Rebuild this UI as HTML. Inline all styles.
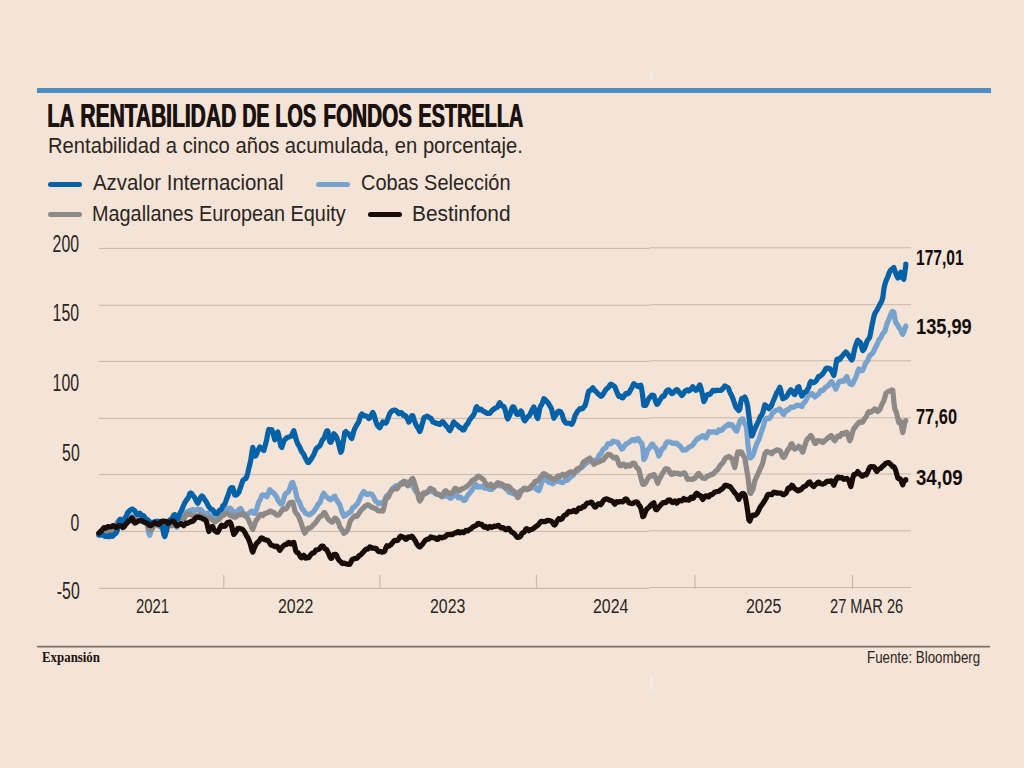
<!DOCTYPE html>
<html><head><meta charset="utf-8"><style>
*{margin:0;padding:0}
html,body{width:1024px;height:768px;overflow:hidden;background:#F4E4D8}
body{position:relative;font-family:"Liberation Sans",sans-serif;color:#2a231f}
.a{position:absolute;white-space:nowrap;line-height:1}
.c{display:inline-block;transform-origin:0 0}
.r{text-align:right}
.r .c{transform-origin:100% 0}
#rt{position:absolute;left:37px;top:88px;width:954px;height:5px;background:#4F8DC3}
.tt{top:99.1px;font-weight:bold;font-size:33px;color:#1b120e}
.tt .c{text-shadow:1.2px 0 0 #1b120e}
#sub{left:48px;top:135px;font-size:21.6px;color:#2c2420}
#sub .c{transform:scaleX(0.935)}
.lg{font-size:21.6px;color:#2c2420}
.lg .c{transform:scaleX(0.945)}
.sw{position:absolute;height:5px;border-radius:2.5px}
.ya{font-size:24px;color:#2c2420;right:944.6px}
.ya .c{transform:scaleX(0.66)}
.xa{font-size:19.5px;color:#2c2420}
.xa .c{transform:scaleX(0.815)}
.xa .c.m{transform:scaleX(0.75)}
.vl{font-size:21.3px;font-weight:bold;color:#140c08}
.vl .c{transform:scaleX(0.75)}
#rb{position:absolute;left:37px;top:646px;width:953px;height:1px;background:#7f7269;box-shadow:0 1px 0 #b4a79d,0 -1px 0 #d8cabe}
#exp{left:41.5px;top:650px;font-family:"Liberation Serif",serif;font-weight:bold;font-size:14.5px;color:#1b120e}
#exp .c{transform:scaleX(0.888)}
#src{left:867px;top:649.3px;font-size:16.3px;color:#2c2420}
#src .c{transform:scaleX(0.817)}
svg{position:absolute;left:0;top:0}
</style></head><body>
<div id="rt"></div>
<div class="a tt" style="left:47.18px"><span class="c" style="transform:scaleX(0.6095)">LA</span></div>
<div class="a tt" style="left:79.73px"><span class="c" style="transform:scaleX(0.6358)">RENTABILIDAD</span></div>
<div class="a tt" style="left:241.82px"><span class="c" style="transform:scaleX(0.5909)">DE</span></div>
<div class="a tt" style="left:275.40px"><span class="c" style="transform:scaleX(0.6015)">LOS</span></div>
<div class="a tt" style="left:322.54px"><span class="c" style="transform:scaleX(0.6281)">FONDOS</span></div>
<div class="a tt" style="left:418.20px"><span class="c" style="transform:scaleX(0.6023)">ESTRELLA</span></div>
<div class="a" id="sub"><span class="c">Rentabilidad a cinco años acumulada, en porcentaje.</span></div>
<div class="sw" style="left:48px;top:182px;width:34px;background:#0361A8"></div>
<div class="a lg" style="left:93px;top:172px"><span class="c">Azvalor Internacional</span></div>
<div class="sw" style="left:316px;top:182px;width:34px;background:#77A2CD"></div>
<div class="a lg" style="left:361px;top:172px"><span class="c" style="transform:scaleX(0.9225)">Cobas Selección</span></div>
<div class="sw" style="left:48px;top:212px;width:34px;background:#8C8987"></div>
<div class="a lg" style="left:92px;top:203px"><span class="c" style="transform:scaleX(0.919)">Magallanes European Equity</span></div>
<div class="sw" style="left:368px;top:212px;width:34px;background:#170C06"></div>
<div class="a lg" style="left:412px;top:203px"><span class="c" style="transform:scaleX(0.966)">Bestinfond</span></div>

<div class="a ya r" style="top:231.7px"><span class="c">200</span></div>
<div class="a ya r" style="top:301.2px"><span class="c">150</span></div>
<div class="a ya r" style="top:371.2px"><span class="c">100</span></div>
<div class="a ya r" style="top:440.9px"><span class="c">50</span></div>
<div class="a ya r" style="top:510.6px"><span class="c">0</span></div>
<div class="a ya r" style="top:579.2px"><span class="c">-50</span></div>

<svg width="1024" height="768" viewBox="0 0 1024 768">
<g stroke="#c9b7aa" stroke-width="1"><line x1="99" x2="649.5" y1="248.4" y2="248.4"/><line x1="649.5" x2="911" y1="247.8" y2="247.8"/><line x1="99" x2="649.5" y1="305.3" y2="305.3"/><line x1="649.5" x2="911" y1="304.7" y2="304.7"/><line x1="99" x2="649.5" y1="361.4" y2="361.4"/><line x1="649.5" x2="911" y1="360.8" y2="360.8"/><line x1="99" x2="649.5" y1="418.4" y2="418.4"/><line x1="649.5" x2="911" y1="417.8" y2="417.8"/><line x1="99" x2="649.5" y1="474.6" y2="474.6"/><line x1="649.5" x2="911" y1="474.0" y2="474.0"/><line x1="99" x2="649.5" y1="531.4" y2="531.4"/><line x1="649.5" x2="911" y1="530.8" y2="530.8"/></g>
<g stroke="#c9b9ac" stroke-width="1.2"><line x1="223.8" x2="223.8" y1="575" y2="589"/><line x1="379.9" x2="379.9" y1="575" y2="589"/><line x1="536.5" x2="536.5" y1="575" y2="589"/><line x1="695.0" x2="695.0" y1="575" y2="589"/><line x1="852.5" x2="852.5" y1="575" y2="589"/><line x1="99" x2="649.5" y1="588.4" y2="588.4"/><line x1="649.5" x2="911" y1="587.5" y2="587.5"/></g>
<g fill="none" stroke-width="5.2" stroke-linejoin="round" stroke-linecap="round">
<path d="M98.8 535.0L99.8 534.2L100.8 534.1L101.8 534.8L102.8 534.3L103.8 534.3L104.8 534.9L105.8 534.2L106.8 533.9L107.8 534.5L108.8 536.1L109.8 536.9L110.8 535.7L111.8 534.6L112.8 534.4L113.8 532.9L114.8 531.8L115.8 530.6L116.8 528.5L117.8 526.6L118.8 524.9L119.8 523.7L120.8 522.3L121.8 520.4L122.8 519.1L123.8 518.7L124.8 517.8L125.8 516.7L126.8 516.3L127.8 516.7L128.8 517.6L129.8 517.5L130.8 515.9L131.8 515.9L132.8 517.0L133.8 517.8L134.8 517.4L135.8 516.8L136.8 517.2L137.8 517.8L138.8 518.0L139.8 517.9L140.8 518.0L141.8 519.7L142.8 520.4L143.8 520.2L144.8 520.6L145.8 520.9L146.8 523.1L147.8 528.3L148.8 533.3L149.8 535.4L150.8 531.9L151.8 529.0L152.8 526.4L153.8 523.4L154.8 523.8L155.8 524.7L156.8 525.1L157.8 525.0L158.8 525.6L159.8 526.6L160.8 527.2L161.8 528.1L162.8 529.6L163.8 532.2L164.8 533.1L165.8 529.8L166.8 527.5L167.8 525.3L168.8 524.5L169.8 524.1L170.8 523.4L171.8 522.5L172.8 522.5L173.8 523.7L174.8 524.0L175.8 525.7L176.8 527.3L177.8 526.2L178.8 521.7L179.8 517.6L180.8 516.7L181.8 515.9L182.8 514.0L183.8 513.0L184.8 513.5L185.8 513.2L186.8 511.8L187.8 511.2L188.8 510.9L189.8 510.4L190.8 510.4L191.8 510.2L192.8 509.5L193.8 510.2L194.8 510.5L195.8 510.3L196.8 509.8L197.8 509.0L198.8 509.7L199.8 509.7L200.8 509.5L201.8 510.5L202.8 512.1L203.8 514.2L204.8 514.7L205.8 513.9L206.8 513.2L207.8 513.5L208.8 514.2L209.8 515.4L210.8 516.5L211.8 518.1L212.8 519.1L213.8 518.2L214.8 517.4L215.8 517.5L216.8 517.6L217.8 515.6L218.8 514.3L219.8 514.3L220.8 513.9L221.8 513.6L222.8 513.6L223.8 513.1L224.8 511.7L225.8 510.3L226.8 509.6L227.8 508.5L228.8 508.2L229.8 508.0L230.8 508.6L231.8 510.0L232.8 511.1L233.8 511.7L234.8 512.0L235.8 512.4L236.8 512.2L237.8 510.9L238.8 509.5L239.8 508.7L240.8 508.7L241.8 510.5L242.8 514.0L243.8 515.3L244.8 515.3L245.8 514.3L246.8 514.1L247.8 514.0L248.8 513.5L249.8 512.6L250.8 511.6L251.8 511.2L252.8 512.4L253.8 513.3L254.8 513.5L255.8 511.4L256.8 508.8L257.8 505.1L258.8 501.9L259.8 500.4L260.8 498.0L261.8 495.6L262.8 494.8L263.8 495.2L264.8 495.2L265.8 496.0L266.8 496.8L267.8 494.9L268.8 492.2L269.8 489.7L270.8 490.6L271.8 492.1L272.8 492.5L273.8 493.2L274.8 494.5L275.8 495.7L276.8 497.3L277.8 499.8L278.8 501.4L279.8 502.7L280.8 504.1L281.8 504.2L282.8 501.9L283.8 498.6L284.8 494.8L285.8 493.4L286.8 493.0L287.8 492.3L288.8 491.2L289.8 488.5L290.8 485.2L291.8 482.8L292.8 482.5L293.8 485.9L294.8 488.0L295.8 492.2L296.8 497.0L297.8 500.1L298.8 501.0L299.8 503.0L300.8 505.7L301.8 508.3L302.8 509.6L303.8 510.4L304.8 512.4L305.8 513.5L306.8 513.7L307.8 514.1L308.8 514.9L309.8 514.9L310.8 514.2L311.8 512.9L312.8 512.4L313.8 511.3L314.8 509.8L315.8 508.5L316.8 506.8L317.8 504.6L318.8 503.6L319.8 503.0L320.8 500.3L321.8 497.3L322.8 495.0L323.8 493.2L324.8 494.9L325.8 496.2L326.8 497.1L327.8 497.8L328.8 498.6L329.8 499.4L330.8 499.7L331.8 498.9L332.8 497.7L333.8 496.7L334.8 496.3L335.8 498.6L336.8 500.2L337.8 501.8L338.8 503.2L339.8 505.0L340.8 508.2L341.8 511.2L342.8 513.9L343.8 516.3L344.8 515.5L345.8 515.2L346.8 514.6L347.8 513.5L348.8 512.8L349.8 512.5L350.8 511.7L351.8 509.8L352.8 507.7L353.8 507.2L354.8 506.7L355.8 505.3L356.8 504.3L357.8 503.2L358.8 501.0L359.8 498.7L360.8 496.3L361.8 494.4L362.8 492.9L363.8 491.5L364.8 492.7L365.8 493.6L366.8 494.4L367.8 494.4L368.8 493.8L369.8 493.9L370.8 493.8L371.8 494.3L372.8 495.7L373.8 497.5L374.8 499.6L375.8 501.3L376.8 502.0L377.8 502.8L378.8 503.7L379.8 503.4L380.8 502.7L381.8 503.2L382.8 503.1L383.8 502.3L384.8 499.8L385.8 497.0L386.8 495.6L387.8 495.4L388.8 494.3L389.8 492.6L390.8 491.4L391.8 489.4L392.8 488.2L393.8 487.6L394.8 486.4L395.8 485.8L396.8 485.5L397.8 485.5L398.8 485.6L399.8 484.8L400.8 483.2L401.8 482.7L402.8 482.7L403.8 482.2L404.8 481.6L405.8 481.8L406.8 482.1L407.8 482.5L408.8 482.8L409.8 482.4L410.8 483.0L411.8 485.1L412.8 486.6L413.8 488.0L414.8 490.0L415.8 491.4L416.8 492.4L417.8 493.1L418.8 495.4L419.8 497.9L420.8 496.3L421.8 494.1L422.8 494.2L423.8 494.5L424.8 493.9L425.8 492.6L426.8 491.9L427.8 492.1L428.8 491.0L429.8 489.5L430.8 490.2L431.8 491.3L432.8 492.0L433.8 492.3L434.8 493.0L435.8 493.5L436.8 493.9L437.8 493.9L438.8 494.2L439.8 495.0L440.8 495.5L441.8 495.7L442.8 495.9L443.8 495.4L444.8 495.3L445.8 496.1L446.8 496.1L447.8 496.1L448.8 496.5L449.8 497.8L450.8 498.3L451.8 497.5L452.8 496.2L453.8 494.0L454.8 492.7L455.8 493.6L456.8 495.2L457.8 497.6L458.8 497.9L459.8 497.0L460.8 497.3L461.8 498.3L462.8 499.4L463.8 500.5L464.8 500.2L465.8 499.2L466.8 497.0L467.8 495.2L468.8 494.1L469.8 493.0L470.8 491.6L471.8 490.0L472.8 488.8L473.8 487.3L474.8 485.5L475.8 484.4L476.8 485.4L477.8 487.1L478.8 487.0L479.8 486.7L480.8 486.9L481.8 486.6L482.8 486.3L483.8 487.5L484.8 488.4L485.8 487.5L486.8 487.0L487.8 488.2L488.8 489.3L489.8 489.4L490.8 489.3L491.8 489.4L492.8 488.5L493.8 486.8L494.8 485.4L495.8 485.1L496.8 485.2L497.8 485.3L498.8 485.3L499.8 485.8L500.8 485.9L501.8 485.9L502.8 486.0L503.8 485.3L504.8 485.8L505.8 487.6L506.8 489.4L507.8 490.7L508.8 492.0L509.8 492.6L510.8 492.8L511.8 493.0L512.8 493.7L513.8 493.8L514.8 493.8L515.8 493.0L516.8 492.4L517.8 492.8L518.8 493.0L519.8 491.6L520.8 490.5L521.8 490.6L522.8 490.3L523.8 489.0L524.8 488.2L525.8 488.3L526.8 488.3L527.8 488.6L528.8 488.8L529.8 488.1L530.8 487.8L531.8 487.9L532.8 487.3L533.8 486.4L534.8 486.1L535.8 487.5L536.8 489.6L537.8 490.2L538.8 490.7L539.8 488.1L540.8 485.2L541.8 482.8L542.8 480.2L543.8 479.1L544.8 479.3L545.8 479.4L546.8 479.8L547.8 481.1L548.8 482.5L549.8 482.2L550.8 482.4L551.8 483.4L552.8 483.8L553.8 482.8L554.8 481.8L555.8 481.4L556.8 481.5L557.8 481.2L558.8 481.2L559.8 481.6L560.8 482.3L561.8 482.3L562.8 482.6L563.8 481.4L564.8 480.1L565.8 479.8L566.8 480.3L567.8 479.8L568.8 478.4L569.8 477.6L570.8 476.8L571.8 476.1L572.8 475.6L573.8 474.4L574.8 472.0L575.8 470.8L576.8 471.2L577.8 471.0L578.8 469.8L579.8 467.8L580.8 467.4L581.8 467.6L582.8 466.4L583.8 465.5L584.8 464.5L585.8 463.4L586.8 462.8L587.8 462.4L588.8 460.7L589.8 459.7L590.8 460.5L591.8 461.8L592.8 462.1L593.8 461.9L594.8 460.6L595.8 459.7L596.8 459.3L597.8 458.5L598.8 456.2L599.8 454.3L600.8 453.7L601.8 452.2L602.8 450.1L603.8 448.9L604.8 448.4L605.8 448.0L606.8 445.7L607.8 443.5L608.8 443.6L609.8 443.8L610.8 443.9L611.8 442.7L612.8 441.2L613.8 441.3L614.8 441.7L615.8 442.0L616.8 442.0L617.8 442.4L618.8 444.4L619.8 445.8L620.8 447.5L621.8 449.1L622.8 448.7L623.8 447.1L624.8 445.7L625.8 444.0L626.8 443.6L627.8 443.2L628.8 442.5L629.8 441.6L630.8 440.8L631.8 440.1L632.8 439.6L633.8 439.7L634.8 440.8L635.8 440.0L636.8 439.2L637.8 438.5L638.8 439.2L639.8 441.6L640.8 442.4L641.8 443.4L642.8 447.8L643.8 459.6L644.8 458.0L645.8 456.1L646.8 452.7L647.8 449.7L648.8 448.8L649.8 447.6L650.8 445.7L651.8 444.2L652.8 444.2L653.8 446.5L654.8 447.2L655.8 448.0L656.8 450.2L657.8 452.7L658.8 456.0L659.8 454.2L660.8 451.6L661.8 449.4L662.8 448.4L663.8 448.1L664.8 446.3L665.8 443.6L666.8 442.1L667.8 441.8L668.8 442.1L669.8 442.0L670.8 442.4L671.8 442.9L672.8 443.4L673.8 443.5L674.8 443.2L675.8 443.1L676.8 443.3L677.8 444.4L678.8 445.4L679.8 445.9L680.8 446.9L681.8 448.6L682.8 450.3L683.8 450.0L684.8 449.9L685.8 450.0L686.8 449.1L687.8 448.1L688.8 447.3L689.8 446.7L690.8 446.3L691.8 445.9L692.8 444.9L693.8 443.3L694.8 441.9L695.8 440.7L696.8 439.3L697.8 438.4L698.8 438.4L699.8 437.6L700.8 436.8L701.8 436.0L702.8 435.5L703.8 436.0L704.8 437.8L705.8 438.0L706.8 436.4L707.8 434.0L708.8 431.7L709.8 431.8L710.8 432.1L711.8 432.3L712.8 432.0L713.8 431.7L714.8 432.0L715.8 432.7L716.8 432.7L717.8 431.6L718.8 429.9L719.8 430.0L720.8 430.7L721.8 430.2L722.8 429.2L723.8 427.7L724.8 426.8L725.8 426.4L726.8 425.5L727.8 424.6L728.8 424.1L729.8 425.3L730.8 425.4L731.8 424.7L732.8 425.6L733.8 427.6L734.8 429.0L735.8 430.8L736.8 431.1L737.8 428.1L738.8 424.6L739.8 421.2L740.8 419.9L741.8 419.0L742.8 418.8L743.8 421.8L744.8 424.0L745.8 424.3L746.8 430.6L747.8 443.2L748.8 451.4L749.8 457.8L750.8 457.8L751.8 456.7L752.8 455.3L753.8 452.8L754.8 449.3L755.8 446.3L756.8 443.7L757.8 441.6L758.8 439.7L759.8 436.8L760.8 433.3L761.8 430.5L762.8 428.0L763.8 424.8L764.8 420.6L765.8 418.6L766.8 418.2L767.8 418.4L768.8 418.7L769.8 418.0L770.8 416.6L771.8 414.4L772.8 412.8L773.8 412.2L774.8 411.2L775.8 410.4L776.8 410.2L777.8 410.0L778.8 409.1L779.8 408.9L780.8 410.0L781.8 412.2L782.8 414.0L783.8 414.5L784.8 412.4L785.8 410.5L786.8 409.8L787.8 410.4L788.8 409.4L789.8 408.1L790.8 407.2L791.8 407.2L792.8 407.4L793.8 407.0L794.8 406.6L795.8 406.0L796.8 405.1L797.8 405.5L798.8 405.3L799.8 405.4L800.8 406.2L801.8 406.6L802.8 404.3L803.8 403.0L804.8 402.1L805.8 400.7L806.8 398.7L807.8 396.8L808.8 395.5L809.8 394.3L810.8 393.8L811.8 393.4L812.8 394.4L813.8 396.0L814.8 397.0L815.8 396.2L816.8 395.1L817.8 394.6L818.8 393.9L819.8 392.1L820.8 390.5L821.8 390.3L822.8 390.4L823.8 389.6L824.8 388.1L825.8 387.0L826.8 386.5L827.8 385.9L828.8 384.9L829.8 383.5L830.8 382.0L831.8 381.6L832.8 384.0L833.8 385.5L834.8 386.8L835.8 389.1L836.8 387.0L837.8 384.3L838.8 382.1L839.8 381.3L840.8 381.1L841.8 380.8L842.8 381.3L843.8 381.2L844.8 379.4L845.8 377.7L846.8 376.5L847.8 379.4L848.8 382.1L849.8 383.7L850.8 384.3L851.8 384.6L852.8 383.4L853.8 381.0L854.8 379.2L855.8 377.4L856.8 374.8L857.8 371.3L858.8 368.9L859.8 370.1L860.8 370.6L861.8 370.8L862.8 370.1L863.8 368.0L864.8 365.1L865.8 362.9L866.8 361.9L867.8 360.2L868.8 357.6L869.8 355.5L870.8 354.6L871.8 354.0L872.8 352.8L873.8 351.2L874.8 348.8L875.8 346.6L876.8 345.0L877.8 342.7L878.8 340.3L879.8 338.8L880.8 337.6L881.8 335.5L882.8 333.6L883.8 332.5L884.8 331.5L885.8 327.9L886.8 324.3L887.8 321.8L888.8 319.7L889.8 316.9L890.8 314.3L891.8 312.2L892.8 311.5L893.8 312.0L894.8 318.2L895.8 322.6L896.8 324.0L897.8 325.2L898.8 327.3L899.8 328.6L900.8 330.0L901.8 332.9L902.8 334.3L903.8 332.0L904.8 329.2L905.8 325.9L905.8 326.6" stroke="#77A2CD"/>
<path d="M98.8 533.8L99.8 534.5L100.8 533.0L101.8 531.8L102.8 531.9L103.8 532.2L104.8 532.1L105.8 531.9L106.8 531.8L107.8 531.5L108.8 531.5L109.8 532.7L110.8 533.7L111.8 533.6L112.8 532.1L113.8 529.2L114.8 526.7L115.8 524.8L116.8 523.5L117.8 521.5L118.8 521.3L119.8 522.4L120.8 523.4L121.8 522.8L122.8 521.6L123.8 521.2L124.8 521.4L125.8 520.6L126.8 519.8L127.8 519.9L128.8 521.1L129.8 521.2L130.8 519.6L131.8 518.7L132.8 518.1L133.8 517.5L134.8 518.0L135.8 519.4L136.8 520.6L137.8 520.4L138.8 520.0L139.8 520.8L140.8 520.6L141.8 520.1L142.8 520.6L143.8 521.1L144.8 521.4L145.8 522.2L146.8 523.0L147.8 525.3L148.8 528.1L149.8 529.9L150.8 529.9L151.8 529.2L152.8 527.9L153.8 526.0L154.8 524.7L155.8 523.6L156.8 523.2L157.8 523.8L158.8 525.5L159.8 526.3L160.8 526.1L161.8 526.0L162.8 525.3L163.8 525.0L164.8 524.8L165.8 524.6L166.8 525.6L167.8 526.1L168.8 525.2L169.8 525.0L170.8 525.3L171.8 525.8L172.8 525.4L173.8 525.0L174.8 524.6L175.8 523.2L176.8 522.0L177.8 521.6L178.8 520.5L179.8 520.1L180.8 519.8L181.8 518.9L182.8 518.9L183.8 518.9L184.8 517.5L185.8 515.4L186.8 513.8L187.8 514.0L188.8 514.4L189.8 514.1L190.8 514.4L191.8 515.1L192.8 515.4L193.8 515.9L194.8 516.3L195.8 515.7L196.8 516.2L197.8 517.2L198.8 516.2L199.8 514.6L200.8 515.2L201.8 516.6L202.8 517.5L203.8 517.2L204.8 516.9L205.8 517.2L206.8 518.2L207.8 518.4L208.8 518.1L209.8 518.3L210.8 519.0L211.8 519.7L212.8 520.1L213.8 521.1L214.8 522.0L215.8 521.3L216.8 520.5L217.8 520.3L218.8 519.5L219.8 518.6L220.8 516.9L221.8 515.6L222.8 515.6L223.8 515.2L224.8 514.1L225.8 513.6L226.8 513.1L227.8 513.0L228.8 514.1L229.8 515.3L230.8 515.6L231.8 515.7L232.8 516.5L233.8 517.2L234.8 517.1L235.8 517.1L236.8 516.0L237.8 514.8L238.8 515.0L239.8 515.0L240.8 514.7L241.8 514.0L242.8 513.0L243.8 514.2L244.8 515.3L245.8 516.2L246.8 517.5L247.8 518.5L248.8 520.6L249.8 523.1L250.8 525.1L251.8 527.8L252.8 529.4L253.8 526.7L254.8 523.6L255.8 521.1L256.8 519.5L257.8 518.3L258.8 516.5L259.8 515.0L260.8 514.3L261.8 514.6L262.8 515.6L263.8 514.5L264.8 513.4L265.8 513.4L266.8 512.8L267.8 512.6L268.8 512.3L269.8 511.1L270.8 511.1L271.8 511.8L272.8 512.3L273.8 512.4L274.8 513.3L275.8 514.4L276.8 515.1L277.8 515.2L278.8 514.9L279.8 513.6L280.8 512.0L281.8 510.6L282.8 509.2L283.8 508.8L284.8 509.1L285.8 509.0L286.8 508.1L287.8 506.1L288.8 504.1L289.8 502.7L290.8 502.4L291.8 502.2L292.8 502.3L293.8 506.1L294.8 510.7L295.8 513.0L296.8 513.8L297.8 515.1L298.8 517.1L299.8 519.5L300.8 522.1L301.8 525.1L302.8 528.2L303.8 531.1L304.8 533.2L305.8 531.9L306.8 530.0L307.8 528.3L308.8 528.0L309.8 528.1L310.8 527.4L311.8 526.8L312.8 525.4L313.8 524.3L314.8 523.6L315.8 522.3L316.8 521.0L317.8 519.5L318.8 518.0L319.8 516.8L320.8 516.2L321.8 515.8L322.8 514.7L323.8 512.7L324.8 512.6L325.8 514.5L326.8 516.7L327.8 518.2L328.8 519.7L329.8 520.5L330.8 521.2L331.8 522.1L332.8 522.0L333.8 520.1L334.8 518.1L335.8 518.4L336.8 519.6L337.8 520.8L338.8 523.5L339.8 526.7L340.8 528.2L341.8 529.5L342.8 531.4L343.8 533.4L344.8 532.6L345.8 532.2L346.8 531.0L347.8 529.3L348.8 526.2L349.8 522.3L350.8 520.0L351.8 519.0L352.8 517.8L353.8 516.8L354.8 515.8L355.8 515.9L356.8 516.4L357.8 515.0L358.8 513.4L359.8 512.1L360.8 510.5L361.8 509.3L362.8 508.5L363.8 507.7L364.8 506.3L365.8 506.0L366.8 505.3L367.8 504.7L368.8 505.4L369.8 505.9L370.8 506.9L371.8 507.3L372.8 507.4L373.8 508.1L374.8 508.5L375.8 508.5L376.8 509.7L377.8 510.8L378.8 510.9L379.8 510.9L380.8 510.7L381.8 510.7L382.8 511.1L383.8 508.0L384.8 503.4L385.8 499.4L386.8 497.8L387.8 497.7L388.8 496.3L389.8 493.6L390.8 491.7L391.8 490.5L392.8 489.5L393.8 488.9L394.8 488.9L395.8 488.7L396.8 489.0L397.8 488.0L398.8 485.8L399.8 484.5L400.8 484.5L401.8 484.4L402.8 482.6L403.8 481.2L404.8 482.6L405.8 483.8L406.8 484.8L407.8 485.7L408.8 484.3L409.8 482.4L410.8 480.5L411.8 479.2L412.8 478.5L413.8 480.8L414.8 484.1L415.8 487.1L416.8 490.4L417.8 494.2L418.8 498.7L419.8 501.0L420.8 499.6L421.8 497.7L422.8 494.8L423.8 492.9L424.8 493.2L425.8 493.5L426.8 492.7L427.8 491.9L428.8 490.4L429.8 488.6L430.8 488.4L431.8 489.4L432.8 489.6L433.8 490.0L434.8 492.2L435.8 493.7L436.8 494.4L437.8 494.5L438.8 494.6L439.8 495.0L440.8 496.1L441.8 496.7L442.8 495.2L443.8 492.9L444.8 491.3L445.8 490.7L446.8 491.9L447.8 492.7L448.8 492.9L449.8 493.7L450.8 493.7L451.8 493.2L452.8 492.1L453.8 490.4L454.8 488.4L455.8 488.3L456.8 489.2L457.8 490.0L458.8 490.6L459.8 490.7L460.8 489.5L461.8 488.8L462.8 488.6L463.8 488.2L464.8 487.8L465.8 487.0L466.8 486.5L467.8 485.5L468.8 484.6L469.8 483.6L470.8 482.5L471.8 480.9L472.8 480.2L473.8 479.7L474.8 479.3L475.8 478.9L476.8 477.3L477.8 476.2L478.8 476.2L479.8 477.2L480.8 477.7L481.8 478.5L482.8 479.1L483.8 479.8L484.8 481.9L485.8 483.7L486.8 484.7L487.8 485.6L488.8 485.7L489.8 485.0L490.8 484.1L491.8 485.0L492.8 486.4L493.8 487.0L494.8 486.9L495.8 485.4L496.8 483.7L497.8 482.7L498.8 483.0L499.8 483.5L500.8 483.9L501.8 483.9L502.8 484.9L503.8 486.7L504.8 487.8L505.8 487.1L506.8 486.2L507.8 486.1L508.8 486.4L509.8 487.2L510.8 488.8L511.8 490.0L512.8 490.7L513.8 491.0L514.8 492.3L515.8 494.0L516.8 495.9L517.8 497.5L518.8 496.6L519.8 494.2L520.8 491.8L521.8 490.7L522.8 489.7L523.8 488.4L524.8 488.3L525.8 489.5L526.8 489.7L527.8 488.9L528.8 488.8L529.8 488.3L530.8 486.4L531.8 485.3L532.8 484.6L533.8 483.2L534.8 481.6L535.8 481.2L536.8 481.4L537.8 481.0L538.8 479.6L539.8 477.9L540.8 477.2L541.8 475.8L542.8 474.1L543.8 473.7L544.8 474.2L545.8 474.7L546.8 475.3L547.8 476.1L548.8 476.4L549.8 476.9L550.8 477.8L551.8 478.3L552.8 478.8L553.8 479.7L554.8 479.7L555.8 478.4L556.8 477.0L557.8 475.9L558.8 475.9L559.8 476.7L560.8 475.7L561.8 474.8L562.8 474.3L563.8 474.8L564.8 475.8L565.8 475.4L566.8 474.2L567.8 473.5L568.8 472.8L569.8 472.2L570.8 471.9L571.8 472.1L572.8 472.8L573.8 473.2L574.8 472.2L575.8 470.6L576.8 469.2L577.8 468.6L578.8 468.4L579.8 468.0L580.8 467.2L581.8 465.6L582.8 463.2L583.8 461.6L584.8 462.0L585.8 461.5L586.8 459.7L587.8 459.3L588.8 459.0L589.8 458.0L590.8 459.5L591.8 460.5L592.8 461.8L593.8 464.4L594.8 463.9L595.8 463.0L596.8 462.5L597.8 461.9L598.8 462.2L599.8 461.5L600.8 460.7L601.8 460.4L602.8 460.2L603.8 459.3L604.8 457.8L605.8 456.9L606.8 455.5L607.8 454.4L608.8 454.4L609.8 454.5L610.8 455.2L611.8 456.4L612.8 457.1L613.8 458.0L614.8 458.0L615.8 457.2L616.8 457.8L617.8 460.6L618.8 463.5L619.8 465.5L620.8 465.8L621.8 465.5L622.8 464.2L623.8 464.0L624.8 465.4L625.8 466.6L626.8 465.8L627.8 464.8L628.8 465.4L629.8 466.0L630.8 465.4L631.8 463.9L632.8 463.0L633.8 463.1L634.8 463.6L635.8 466.0L636.8 467.8L637.8 468.2L638.8 469.4L639.8 473.3L640.8 477.3L641.8 481.4L642.8 484.4L643.8 484.2L644.8 484.0L645.8 482.6L646.8 480.4L647.8 478.5L648.8 477.3L649.8 475.9L650.8 475.5L651.8 476.1L652.8 475.7L653.8 474.4L654.8 475.9L655.8 477.9L656.8 481.3L657.8 483.2L658.8 480.0L659.8 478.2L660.8 476.7L661.8 474.6L662.8 472.9L663.8 471.3L664.8 469.5L665.8 468.7L666.8 468.9L667.8 469.0L668.8 470.1L669.8 472.4L670.8 473.9L671.8 474.5L672.8 473.9L673.8 472.9L674.8 472.8L675.8 473.5L676.8 473.6L677.8 473.2L678.8 473.6L679.8 474.3L680.8 474.3L681.8 473.6L682.8 473.4L683.8 472.9L684.8 473.1L685.8 475.0L686.8 477.8L687.8 479.6L688.8 479.3L689.8 479.1L690.8 479.3L691.8 479.2L692.8 479.4L693.8 478.4L694.8 478.3L695.8 477.4L696.8 475.3L697.8 473.9L698.8 473.5L699.8 475.0L700.8 476.2L701.8 477.3L702.8 477.9L703.8 478.2L704.8 478.5L705.8 477.8L706.8 476.6L707.8 475.8L708.8 475.8L709.8 475.4L710.8 474.6L711.8 474.1L712.8 474.3L713.8 473.5L714.8 472.0L715.8 470.9L716.8 470.3L717.8 469.5L718.8 467.8L719.8 466.3L720.8 464.8L721.8 463.7L722.8 462.8L723.8 461.3L724.8 459.2L725.8 457.9L726.8 457.4L727.8 457.3L728.8 456.5L729.8 457.1L730.8 457.7L731.8 458.6L732.8 460.8L733.8 464.8L734.8 467.5L735.8 462.7L736.8 456.1L737.8 452.0L738.8 453.2L739.8 453.3L740.8 451.8L741.8 452.3L742.8 454.6L743.8 456.3L744.8 458.1L745.8 464.0L746.8 470.4L747.8 476.2L748.8 484.4L749.8 492.9L750.8 493.3L751.8 491.3L752.8 489.6L753.8 485.4L754.8 481.0L755.8 478.5L756.8 476.3L757.8 474.3L758.8 472.2L759.8 469.8L760.8 467.5L761.8 465.4L762.8 462.6L763.8 458.2L764.8 454.1L765.8 452.5L766.8 451.4L767.8 451.7L768.8 452.2L769.8 452.4L770.8 453.2L771.8 453.7L772.8 452.3L773.8 451.3L774.8 451.2L775.8 450.7L776.8 449.9L777.8 450.1L778.8 450.4L779.8 450.5L780.8 452.3L781.8 454.9L782.8 456.9L783.8 457.3L784.8 456.0L785.8 454.1L786.8 451.7L787.8 449.7L788.8 448.8L789.8 447.5L790.8 444.3L791.8 443.7L792.8 445.7L793.8 448.3L794.8 449.1L795.8 448.7L796.8 447.9L797.8 447.4L798.8 446.3L799.8 446.9L800.8 448.3L801.8 450.7L802.8 452.2L803.8 449.0L804.8 445.8L805.8 442.4L806.8 439.9L807.8 438.6L808.8 437.6L809.8 436.7L810.8 435.4L811.8 436.8L812.8 438.8L813.8 441.0L814.8 443.3L815.8 443.3L816.8 442.0L817.8 440.7L818.8 440.8L819.8 440.9L820.8 441.0L821.8 442.1L822.8 442.4L823.8 441.8L824.8 440.4L825.8 440.0L826.8 438.8L827.8 437.8L828.8 437.5L829.8 436.4L830.8 435.6L831.8 435.9L832.8 437.9L833.8 439.7L834.8 440.8L835.8 439.1L836.8 437.4L837.8 436.0L838.8 435.9L839.8 436.5L840.8 435.1L841.8 433.3L842.8 433.5L843.8 434.1L844.8 432.9L845.8 432.4L846.8 432.2L847.8 434.7L848.8 438.1L849.8 440.8L850.8 438.5L851.8 435.2L852.8 431.4L853.8 428.7L854.8 427.7L855.8 426.3L856.8 424.7L857.8 424.0L858.8 422.6L859.8 421.8L860.8 421.9L861.8 422.3L862.8 421.8L863.8 420.2L864.8 418.3L865.8 417.3L866.8 415.6L867.8 413.0L868.8 411.8L869.8 412.4L870.8 412.2L871.8 411.4L872.8 410.7L873.8 409.9L874.8 408.9L875.8 409.2L876.8 410.8L877.8 411.5L878.8 410.5L879.8 409.6L880.8 407.1L881.8 404.6L882.8 402.6L883.8 400.9L884.8 397.5L885.8 393.8L886.8 392.3L887.8 391.8L888.8 391.2L889.8 391.1L890.8 390.8L891.8 389.8L892.8 390.3L893.8 401.1L894.8 408.9L895.8 411.2L896.8 414.0L897.8 418.7L898.8 422.7L899.8 420.7L900.8 422.2L901.8 428.2L902.8 432.6L903.8 427.7L904.8 422.1L905.8 420.7L905.8 420.5" stroke="#8C8987"/>
<path d="M98.8 535.0L99.8 535.1L100.8 534.5L101.8 534.8L102.8 535.2L103.8 535.2L104.8 536.3L105.8 536.4L106.8 536.3L107.8 536.6L108.8 536.4L109.8 535.2L110.8 535.2L111.8 536.1L112.8 536.3L113.8 534.9L114.8 533.9L115.8 533.4L116.8 531.8L117.8 528.4L118.8 523.1L119.8 519.4L120.8 519.4L121.8 520.8L122.8 522.6L123.8 521.5L124.8 520.1L125.8 517.3L126.8 514.5L127.8 512.3L128.8 511.4L129.8 510.5L130.8 509.8L131.8 509.2L132.8 509.2L133.8 510.1L134.8 510.8L135.8 512.5L136.8 514.3L137.8 514.4L138.8 513.6L139.8 513.2L140.8 514.2L141.8 515.6L142.8 515.6L143.8 515.8L144.8 517.4L145.8 519.1L146.8 519.4L147.8 519.9L148.8 521.1L149.8 521.9L150.8 523.1L151.8 523.6L152.8 522.9L153.8 522.4L154.8 521.5L155.8 521.4L156.8 521.4L157.8 521.3L158.8 521.3L159.8 522.0L160.8 523.5L161.8 525.0L162.8 528.1L163.8 534.6L164.8 536.5L165.8 533.3L166.8 529.7L167.8 525.0L168.8 521.5L169.8 519.7L170.8 519.4L171.8 518.9L172.8 517.0L173.8 514.9L174.8 514.6L175.8 516.6L176.8 518.4L177.8 518.8L178.8 516.0L179.8 513.6L180.8 511.7L181.8 509.6L182.8 507.3L183.8 505.0L184.8 502.7L185.8 501.1L186.8 499.7L187.8 498.4L188.8 496.4L189.8 493.5L190.8 492.9L191.8 493.8L192.8 495.3L193.8 496.3L194.8 498.0L195.8 500.0L196.8 502.0L197.8 503.3L198.8 501.3L199.8 499.4L200.8 497.1L201.8 495.9L202.8 496.6L203.8 498.3L204.8 499.8L205.8 501.0L206.8 502.9L207.8 504.8L208.8 506.7L209.8 508.1L210.8 509.2L211.8 509.3L212.8 509.9L213.8 511.5L214.8 513.4L215.8 513.4L216.8 513.6L217.8 512.8L218.8 511.2L219.8 510.0L220.8 509.9L221.8 508.5L222.8 505.9L223.8 505.1L224.8 504.1L225.8 501.4L226.8 498.4L227.8 496.1L228.8 493.2L229.8 489.8L230.8 488.0L231.8 487.5L232.8 487.7L233.8 491.3L234.8 495.0L235.8 495.2L236.8 494.7L237.8 493.7L238.8 492.4L239.8 489.4L240.8 486.7L241.8 483.6L242.8 480.6L243.8 479.6L244.8 478.9L245.8 478.5L246.8 476.5L247.8 472.9L248.8 468.3L249.8 464.5L250.8 459.7L251.8 453.0L252.8 447.4L253.8 451.4L254.8 456.1L255.8 455.8L256.8 453.5L257.8 450.9L258.8 448.8L259.8 447.1L260.8 447.7L261.8 448.7L262.8 449.6L263.8 450.5L264.8 446.9L265.8 443.3L266.8 439.0L267.8 433.3L268.8 429.4L269.8 430.1L270.8 429.6L271.8 429.6L272.8 432.3L273.8 436.0L274.8 439.9L275.8 437.9L276.8 434.1L277.8 431.9L278.8 435.8L279.8 441.0L280.8 446.2L281.8 447.4L282.8 444.3L283.8 441.5L284.8 439.6L285.8 438.7L286.8 437.8L287.8 437.2L288.8 437.0L289.8 436.7L290.8 436.3L291.8 435.0L292.8 432.7L293.8 430.7L294.8 434.3L295.8 438.1L296.8 441.4L297.8 444.0L298.8 445.5L299.8 447.4L300.8 449.6L301.8 451.9L302.8 453.0L303.8 454.3L304.8 457.0L305.8 458.8L306.8 460.6L307.8 462.5L308.8 462.5L309.8 460.6L310.8 459.8L311.8 458.0L312.8 456.2L313.8 454.5L314.8 452.1L315.8 449.4L316.8 448.0L317.8 447.3L318.8 446.6L319.8 445.6L320.8 443.9L321.8 441.2L322.8 439.3L323.8 438.6L324.8 435.9L325.8 433.0L326.8 430.8L327.8 430.9L328.8 436.4L329.8 441.8L330.8 442.3L331.8 440.4L332.8 437.1L333.8 433.7L334.8 434.6L335.8 436.0L336.8 437.7L337.8 440.7L338.8 444.7L339.8 448.5L340.8 452.3L341.8 450.3L342.8 444.1L343.8 438.6L344.8 432.3L345.8 431.6L346.8 433.0L347.8 433.2L348.8 434.1L349.8 435.6L350.8 437.6L351.8 438.5L352.8 435.1L353.8 431.2L354.8 428.5L355.8 426.8L356.8 424.9L357.8 423.2L358.8 421.8L359.8 418.2L360.8 415.3L361.8 414.0L362.8 414.7L363.8 415.6L364.8 415.7L365.8 415.9L366.8 416.3L367.8 416.9L368.8 418.5L369.8 417.9L370.8 416.3L371.8 414.1L372.8 412.5L373.8 414.4L374.8 417.5L375.8 421.4L376.8 424.2L377.8 426.0L378.8 427.1L379.8 427.7L380.8 425.8L381.8 423.8L382.8 421.9L383.8 422.3L384.8 422.9L385.8 423.1L386.8 421.5L387.8 418.8L388.8 416.1L389.8 413.3L390.8 412.1L391.8 411.1L392.8 410.5L393.8 410.2L394.8 410.1L395.8 410.5L396.8 411.0L397.8 412.7L398.8 413.7L399.8 412.9L400.8 412.5L401.8 413.1L402.8 414.5L403.8 415.7L404.8 415.3L405.8 416.1L406.8 417.9L407.8 419.8L408.8 422.1L409.8 420.1L410.8 417.7L411.8 415.6L412.8 415.8L413.8 419.1L414.8 421.7L415.8 424.4L416.8 426.2L417.8 427.7L418.8 429.6L419.8 431.5L420.8 429.1L421.8 425.3L422.8 422.0L423.8 418.2L424.8 417.2L425.8 416.8L426.8 416.2L427.8 416.3L428.8 417.4L429.8 417.9L430.8 418.0L431.8 419.8L432.8 422.0L433.8 422.3L434.8 422.3L435.8 423.3L436.8 423.4L437.8 423.3L438.8 424.2L439.8 424.5L440.8 423.3L441.8 422.1L442.8 421.6L443.8 422.8L444.8 424.1L445.8 425.5L446.8 426.6L447.8 427.5L448.8 429.4L449.8 430.7L450.8 429.0L451.8 426.8L452.8 424.1L453.8 421.9L454.8 423.3L455.8 424.2L456.8 424.8L457.8 425.6L458.8 426.7L459.8 427.6L460.8 427.7L461.8 428.9L462.8 430.0L463.8 429.9L464.8 428.5L465.8 425.7L466.8 424.7L467.8 423.5L468.8 421.3L469.8 419.6L470.8 418.3L471.8 417.0L472.8 416.1L473.8 414.4L474.8 412.0L475.8 408.2L476.8 406.7L477.8 408.6L478.8 409.9L479.8 409.6L480.8 409.1L481.8 409.9L482.8 411.0L483.8 411.3L484.8 412.0L485.8 412.7L486.8 413.2L487.8 413.5L488.8 413.1L489.8 413.3L490.8 412.1L491.8 410.8L492.8 409.9L493.8 409.1L494.8 408.2L495.8 407.9L496.8 407.5L497.8 406.4L498.8 404.0L499.8 402.7L500.8 404.2L501.8 405.7L502.8 406.3L503.8 406.6L504.8 408.7L505.8 412.3L506.8 416.8L507.8 419.0L508.8 416.6L509.8 414.9L510.8 412.0L511.8 408.6L512.8 406.8L513.8 407.1L514.8 409.0L515.8 412.3L516.8 414.2L517.8 414.5L518.8 413.8L519.8 413.3L520.8 411.0L521.8 411.9L522.8 416.4L523.8 419.3L524.8 420.8L525.8 419.5L526.8 418.0L527.8 416.7L528.8 416.2L529.8 414.8L530.8 412.7L531.8 410.5L532.8 408.9L533.8 406.9L534.8 410.1L535.8 413.6L536.8 417.0L537.8 418.4L538.8 413.5L539.8 408.3L540.8 405.8L541.8 404.4L542.8 401.7L543.8 398.7L544.8 399.3L545.8 400.4L546.8 401.4L547.8 402.5L548.8 404.0L549.8 405.9L550.8 407.3L551.8 409.9L552.8 414.4L553.8 418.2L554.8 416.4L555.8 415.3L556.8 413.3L557.8 411.6L558.8 411.2L559.8 411.3L560.8 412.0L561.8 413.8L562.8 416.7L563.8 420.2L564.8 421.7L565.8 423.1L566.8 423.2L567.8 423.0L568.8 423.3L569.8 423.5L570.8 424.1L571.8 424.3L572.8 422.4L573.8 420.0L574.8 416.4L575.8 414.2L576.8 412.7L577.8 410.8L578.8 410.1L579.8 408.8L580.8 408.5L581.8 408.8L582.8 408.3L583.8 407.0L584.8 406.0L585.8 403.3L586.8 399.1L587.8 394.4L588.8 391.1L589.8 390.8L590.8 389.9L591.8 388.8L592.8 387.8L593.8 389.3L594.8 390.8L595.8 391.2L596.8 392.4L597.8 393.6L598.8 394.3L599.8 395.4L600.8 396.3L601.8 396.0L602.8 394.7L603.8 393.1L604.8 391.3L605.8 389.8L606.8 388.5L607.8 388.0L608.8 387.1L609.8 385.0L610.8 384.2L611.8 384.5L612.8 385.5L613.8 385.9L614.8 386.7L615.8 389.2L616.8 391.8L617.8 394.4L618.8 396.3L619.8 395.7L620.8 396.4L621.8 397.7L622.8 397.8L623.8 396.5L624.8 395.1L625.8 393.5L626.8 393.3L627.8 393.8L628.8 393.1L629.8 391.4L630.8 389.5L631.8 387.7L632.8 385.6L633.8 383.6L634.8 384.8L635.8 385.1L636.8 385.5L637.8 386.7L638.8 386.4L639.8 385.5L640.8 385.2L641.8 389.6L642.8 397.0L643.8 405.4L644.8 405.4L645.8 405.3L646.8 403.4L647.8 400.5L648.8 398.6L649.8 397.3L650.8 396.5L651.8 395.2L652.8 395.3L653.8 395.6L654.8 398.8L655.8 401.9L656.8 404.4L657.8 403.8L658.8 402.1L659.8 400.1L660.8 398.9L661.8 397.0L662.8 395.8L663.8 396.3L664.8 394.9L665.8 392.3L666.8 390.6L667.8 390.1L668.8 389.9L669.8 391.2L670.8 392.6L671.8 393.6L672.8 393.4L673.8 392.2L674.8 391.2L675.8 390.1L676.8 389.6L677.8 390.2L678.8 391.9L679.8 392.7L680.8 394.3L681.8 395.4L682.8 394.6L683.8 393.1L684.8 391.4L685.8 390.5L686.8 390.0L687.8 389.8L688.8 391.0L689.8 390.2L690.8 389.4L691.8 388.0L692.8 386.7L693.8 388.2L694.8 389.4L695.8 390.3L696.8 389.9L697.8 388.5L698.8 386.5L699.8 384.9L700.8 387.6L701.8 391.8L702.8 396.3L703.8 401.6L704.8 400.0L705.8 397.4L706.8 395.1L707.8 394.4L708.8 394.6L709.8 394.4L710.8 393.5L711.8 391.8L712.8 390.4L713.8 390.6L714.8 391.0L715.8 390.3L716.8 390.2L717.8 390.4L718.8 390.3L719.8 390.4L720.8 390.5L721.8 389.7L722.8 388.6L723.8 387.4L724.8 386.0L725.8 386.4L726.8 387.2L727.8 387.5L728.8 389.0L729.8 392.0L730.8 394.1L731.8 395.8L732.8 398.2L733.8 401.3L734.8 404.1L735.8 407.0L736.8 408.3L737.8 409.2L738.8 410.6L739.8 409.1L740.8 401.9L741.8 398.6L742.8 398.4L743.8 398.1L744.8 397.1L745.8 398.9L746.8 402.2L747.8 407.0L748.8 415.1L749.8 422.6L750.8 429.7L751.8 436.0L752.8 434.4L753.8 431.3L754.8 428.9L755.8 426.8L756.8 424.6L757.8 422.6L758.8 420.8L759.8 417.8L760.8 416.1L761.8 414.7L762.8 412.6L763.8 408.6L764.8 404.8L765.8 405.4L766.8 406.4L767.8 407.5L768.8 408.7L769.8 407.7L770.8 406.7L771.8 404.8L772.8 402.0L773.8 399.7L774.8 397.5L775.8 394.9L776.8 392.5L777.8 391.3L778.8 389.5L779.8 387.3L780.8 390.1L781.8 395.5L782.8 398.7L783.8 398.4L784.8 397.5L785.8 397.2L786.8 396.1L787.8 394.4L788.8 392.3L789.8 391.0L790.8 389.8L791.8 390.8L792.8 392.2L793.8 394.0L794.8 394.6L795.8 392.5L796.8 389.5L797.8 387.3L798.8 386.7L799.8 390.3L800.8 393.3L801.8 396.0L802.8 394.8L803.8 393.1L804.8 392.1L805.8 392.0L806.8 390.7L807.8 389.0L808.8 387.1L809.8 383.5L810.8 381.4L811.8 382.2L812.8 382.6L813.8 382.7L814.8 382.0L815.8 381.2L816.8 379.9L817.8 377.8L818.8 376.3L819.8 376.3L820.8 375.8L821.8 374.7L822.8 373.7L823.8 372.3L824.8 370.7L825.8 368.7L826.8 368.1L827.8 368.4L828.8 368.3L829.8 368.5L830.8 369.8L831.8 371.3L832.8 373.3L833.8 375.5L834.8 371.1L835.8 365.4L836.8 359.6L837.8 359.0L838.8 359.9L839.8 359.5L840.8 357.7L841.8 356.5L842.8 355.4L843.8 354.2L844.8 353.2L845.8 352.1L846.8 352.9L847.8 354.0L848.8 355.7L849.8 357.4L850.8 358.9L851.8 360.1L852.8 358.1L853.8 352.9L854.8 348.3L855.8 345.2L856.8 342.4L857.8 340.1L858.8 341.6L859.8 341.9L860.8 343.3L861.8 347.7L862.8 350.6L863.8 349.5L864.8 347.6L865.8 345.1L866.8 341.8L867.8 339.9L868.8 338.7L869.8 337.1L870.8 331.8L871.8 326.1L872.8 321.7L873.8 316.9L874.8 313.6L875.8 311.9L876.8 310.4L877.8 308.3L878.8 306.7L879.8 304.6L880.8 302.9L881.8 300.8L882.8 297.6L883.8 289.5L884.8 284.8L885.8 281.5L886.8 279.1L887.8 277.0L888.8 273.9L889.8 271.6L890.8 269.9L891.8 269.4L892.8 268.6L893.8 267.5L894.8 270.6L895.8 273.5L896.8 275.9L897.8 278.0L898.8 277.4L899.8 273.9L900.8 272.2L901.8 274.9L902.8 277.9L903.8 279.3L904.8 272.3L905.8 265.7L905.8 264.2" stroke="#0361A8"/>
<path d="M98.8 533.0L99.8 532.2L100.8 531.1L101.8 530.5L102.8 529.1L103.8 527.7L104.8 527.8L105.8 528.2L106.8 527.5L107.8 526.5L108.8 526.8L109.8 527.0L110.8 526.9L111.8 526.3L112.8 525.6L113.8 525.9L114.8 526.5L115.8 527.5L116.8 527.3L117.8 526.3L118.8 525.6L119.8 525.9L120.8 526.0L121.8 526.3L122.8 527.5L123.8 527.1L124.8 525.8L125.8 524.3L126.8 523.4L127.8 521.7L128.8 520.9L129.8 520.9L130.8 519.5L131.8 518.0L132.8 519.1L133.8 521.6L134.8 523.1L135.8 522.7L136.8 521.8L137.8 521.4L138.8 520.8L139.8 520.7L140.8 520.4L141.8 520.7L142.8 521.4L143.8 522.1L144.8 522.4L145.8 522.9L146.8 523.0L147.8 523.8L148.8 524.9L149.8 525.5L150.8 525.6L151.8 525.1L152.8 524.0L153.8 523.0L154.8 522.7L155.8 523.3L156.8 523.8L157.8 524.2L158.8 524.7L159.8 523.5L160.8 522.1L161.8 521.3L162.8 521.1L163.8 521.1L164.8 521.6L165.8 521.4L166.8 522.1L167.8 523.3L168.8 523.1L169.8 522.3L170.8 521.8L171.8 521.1L172.8 521.0L173.8 521.7L174.8 522.6L175.8 524.6L176.8 525.8L177.8 525.2L178.8 524.6L179.8 524.3L180.8 523.6L181.8 523.9L182.8 524.9L183.8 525.7L184.8 524.3L185.8 523.1L186.8 523.4L187.8 523.2L188.8 522.6L189.8 522.2L190.8 521.6L191.8 521.2L192.8 521.3L193.8 520.5L194.8 519.0L195.8 517.8L196.8 517.1L197.8 517.2L198.8 517.2L199.8 517.6L200.8 517.7L201.8 518.1L202.8 518.8L203.8 519.2L204.8 519.7L205.8 520.5L206.8 523.0L207.8 527.2L208.8 531.5L209.8 529.8L210.8 527.4L211.8 526.5L212.8 526.8L213.8 529.3L214.8 530.9L215.8 531.3L216.8 532.1L217.8 532.2L218.8 530.3L219.8 528.1L220.8 526.1L221.8 525.2L222.8 525.8L223.8 526.3L224.8 526.2L225.8 525.3L226.8 523.3L227.8 522.3L228.8 522.8L229.8 522.0L230.8 523.3L231.8 526.8L232.8 531.1L233.8 534.4L234.8 533.4L235.8 532.2L236.8 530.1L237.8 528.5L238.8 528.4L239.8 528.6L240.8 528.9L241.8 529.1L242.8 529.7L243.8 530.9L244.8 532.4L245.8 534.3L246.8 536.2L247.8 537.7L248.8 539.9L249.8 542.5L250.8 545.8L251.8 550.0L252.8 552.1L253.8 549.3L254.8 547.0L255.8 544.7L256.8 543.1L257.8 542.2L258.8 541.3L259.8 540.1L260.8 538.2L261.8 537.8L262.8 538.6L263.8 539.2L264.8 539.7L265.8 539.9L266.8 540.2L267.8 540.4L268.8 541.5L269.8 543.3L270.8 544.8L271.8 545.3L272.8 545.6L273.8 546.0L274.8 546.7L275.8 546.4L276.8 546.1L277.8 546.8L278.8 548.8L279.8 550.3L280.8 549.0L281.8 547.6L282.8 546.5L283.8 545.5L284.8 544.7L285.8 544.4L286.8 544.3L287.8 542.9L288.8 542.5L289.8 543.7L290.8 544.0L291.8 543.2L292.8 542.5L293.8 542.4L294.8 546.6L295.8 550.8L296.8 552.4L297.8 552.6L298.8 553.7L299.8 555.5L300.8 557.4L301.8 557.8L302.8 556.4L303.8 555.3L304.8 556.3L305.8 558.2L306.8 558.0L307.8 557.8L308.8 557.6L309.8 555.9L310.8 554.6L311.8 553.6L312.8 552.8L313.8 552.9L314.8 551.9L315.8 550.0L316.8 549.8L317.8 549.7L318.8 549.3L319.8 548.5L320.8 546.9L321.8 546.0L322.8 546.0L323.8 546.9L324.8 549.0L325.8 549.0L326.8 549.8L327.8 552.0L328.8 554.0L329.8 556.5L330.8 558.4L331.8 558.1L332.8 555.9L333.8 554.5L334.8 554.4L335.8 554.4L336.8 555.6L337.8 558.3L338.8 560.1L339.8 561.0L340.8 561.8L341.8 563.2L342.8 563.6L343.8 563.0L344.8 563.4L345.8 563.8L346.8 564.0L347.8 564.3L348.8 564.4L349.8 564.2L350.8 562.3L351.8 560.1L352.8 559.0L353.8 559.1L354.8 558.5L355.8 558.3L356.8 558.3L357.8 557.4L358.8 556.0L359.8 555.3L360.8 554.8L361.8 553.7L362.8 552.6L363.8 551.6L364.8 550.3L365.8 549.4L366.8 549.0L367.8 549.2L368.8 548.2L369.8 546.8L370.8 547.2L371.8 548.2L372.8 548.0L373.8 548.1L374.8 548.5L375.8 548.3L376.8 549.2L377.8 550.9L378.8 551.6L379.8 551.4L380.8 551.5L381.8 552.2L382.8 551.6L383.8 551.9L384.8 551.0L385.8 547.8L386.8 545.8L387.8 546.4L388.8 546.1L389.8 545.3L390.8 544.9L391.8 543.5L392.8 542.4L393.8 541.2L394.8 540.3L395.8 540.4L396.8 540.6L397.8 540.3L398.8 538.8L399.8 536.8L400.8 536.1L401.8 536.9L402.8 537.1L403.8 537.3L404.8 538.5L405.8 539.4L406.8 538.8L407.8 537.2L408.8 536.8L409.8 537.4L410.8 537.0L411.8 536.2L412.8 537.0L413.8 538.7L414.8 540.1L415.8 541.7L416.8 544.1L417.8 545.2L418.8 546.6L419.8 546.9L420.8 546.1L421.8 544.9L422.8 543.9L423.8 542.4L424.8 540.9L425.8 540.0L426.8 539.4L427.8 539.0L428.8 539.2L429.8 538.2L430.8 536.9L431.8 537.2L432.8 537.6L433.8 537.9L434.8 537.9L435.8 538.4L436.8 539.5L437.8 539.4L438.8 537.7L439.8 537.1L440.8 537.6L441.8 537.9L442.8 537.3L443.8 537.1L444.8 537.2L445.8 536.2L446.8 534.9L447.8 534.5L448.8 534.6L449.8 534.6L450.8 534.4L451.8 534.6L452.8 534.4L453.8 533.5L454.8 532.9L455.8 533.0L456.8 532.6L457.8 531.5L458.8 531.8L459.8 532.9L460.8 532.5L461.8 531.8L462.8 532.4L463.8 532.7L464.8 531.4L465.8 530.5L466.8 530.9L467.8 530.9L468.8 529.8L469.8 529.3L470.8 529.1L471.8 528.0L472.8 526.9L473.8 526.5L474.8 526.1L475.8 525.7L476.8 524.8L477.8 523.5L478.8 523.4L479.8 524.5L480.8 524.6L481.8 524.3L482.8 525.7L483.8 527.1L484.8 526.9L485.8 526.5L486.8 527.5L487.8 528.4L488.8 527.5L489.8 526.5L490.8 527.1L491.8 527.4L492.8 526.8L493.8 526.3L494.8 526.2L495.8 526.5L496.8 526.0L497.8 525.3L498.8 525.5L499.8 526.9L500.8 527.8L501.8 527.8L502.8 527.5L503.8 528.2L504.8 529.1L505.8 529.8L506.8 529.6L507.8 528.4L508.8 528.4L509.8 529.6L510.8 531.3L511.8 532.1L512.8 532.5L513.8 533.4L514.8 534.2L515.8 535.6L516.8 536.8L517.8 537.5L518.8 537.1L519.8 537.0L520.8 535.9L521.8 533.7L522.8 532.7L523.8 532.4L524.8 531.2L525.8 529.2L526.8 528.7L527.8 530.0L528.8 530.8L529.8 529.9L530.8 529.5L531.8 529.4L532.8 528.8L533.8 528.2L534.8 527.4L535.8 526.6L536.8 526.0L537.8 525.2L538.8 524.3L539.8 522.8L540.8 521.5L541.8 521.4L542.8 521.6L543.8 521.7L544.8 521.6L545.8 521.4L546.8 520.5L547.8 520.4L548.8 520.7L549.8 520.7L550.8 521.0L551.8 521.7L552.8 523.0L553.8 524.7L554.8 525.0L555.8 523.7L556.8 521.5L557.8 519.8L558.8 518.6L559.8 518.8L560.8 519.5L561.8 519.0L562.8 517.5L563.8 515.9L564.8 515.0L565.8 514.8L566.8 514.1L567.8 512.2L568.8 511.4L569.8 511.7L570.8 511.9L571.8 511.5L572.8 511.2L573.8 510.4L574.8 510.5L575.8 511.8L576.8 511.4L577.8 509.4L578.8 508.1L579.8 508.1L580.8 508.4L581.8 507.6L582.8 506.7L583.8 506.8L584.8 506.3L585.8 504.5L586.8 503.4L587.8 503.0L588.8 503.0L589.8 503.0L590.8 502.2L591.8 502.3L592.8 503.9L593.8 505.7L594.8 507.1L595.8 506.9L596.8 505.7L597.8 504.0L598.8 503.7L599.8 504.5L600.8 504.8L601.8 503.4L602.8 501.6L603.8 500.2L604.8 499.3L605.8 499.1L606.8 498.9L607.8 499.2L608.8 499.9L609.8 500.4L610.8 500.5L611.8 500.9L612.8 501.5L613.8 503.2L614.8 504.2L615.8 502.6L616.8 501.6L617.8 502.2L618.8 502.0L619.8 501.5L620.8 501.6L621.8 501.8L622.8 501.8L623.8 500.9L624.8 499.4L625.8 498.9L626.8 499.2L627.8 500.9L628.8 502.6L629.8 503.0L630.8 503.3L631.8 503.7L632.8 503.4L633.8 502.9L634.8 502.1L635.8 502.1L636.8 501.9L637.8 502.9L638.8 505.1L639.8 505.8L640.8 508.1L641.8 512.0L642.8 516.6L643.8 516.0L644.8 513.4L645.8 510.8L646.8 509.2L647.8 508.2L648.8 507.4L649.8 506.5L650.8 505.0L651.8 504.0L652.8 503.5L653.8 502.7L654.8 506.8L655.8 509.7L656.8 509.7L657.8 508.6L658.8 507.2L659.8 506.0L660.8 504.8L661.8 503.8L662.8 502.8L663.8 502.5L664.8 502.4L665.8 502.6L666.8 501.7L667.8 500.4L668.8 500.0L669.8 499.9L670.8 500.9L671.8 502.3L672.8 502.6L673.8 501.5L674.8 501.0L675.8 502.1L676.8 503.2L677.8 502.1L678.8 500.6L679.8 500.5L680.8 500.7L681.8 500.9L682.8 499.6L683.8 498.4L684.8 499.4L685.8 500.0L686.8 499.6L687.8 499.4L688.8 500.1L689.8 499.3L690.8 497.4L691.8 497.2L692.8 498.4L693.8 497.7L694.8 495.8L695.8 493.8L696.8 493.1L697.8 493.8L698.8 495.5L699.8 495.5L700.8 495.9L701.8 498.2L702.8 499.5L703.8 498.1L704.8 496.3L705.8 495.8L706.8 496.1L707.8 496.8L708.8 496.8L709.8 495.2L710.8 494.5L711.8 494.6L712.8 494.1L713.8 492.9L714.8 492.0L715.8 491.9L716.8 491.6L717.8 491.5L718.8 491.3L719.8 490.3L720.8 489.6L721.8 489.1L722.8 488.3L723.8 487.1L724.8 485.5L725.8 485.2L726.8 485.6L727.8 485.8L728.8 486.4L729.8 486.4L730.8 487.3L731.8 488.9L732.8 490.1L733.8 491.6L734.8 493.0L735.8 493.9L736.8 495.3L737.8 497.5L738.8 499.4L739.8 497.3L740.8 495.3L741.8 493.8L742.8 493.3L743.8 493.8L744.8 495.1L745.8 499.6L746.8 505.5L747.8 512.2L748.8 519.6L749.8 521.1L750.8 518.1L751.8 516.4L752.8 515.0L753.8 515.1L754.8 515.3L755.8 514.6L756.8 513.8L757.8 512.2L758.8 510.2L759.8 507.8L760.8 506.3L761.8 504.9L762.8 503.6L763.8 502.0L764.8 500.4L765.8 498.9L766.8 496.7L767.8 494.5L768.8 494.3L769.8 494.3L770.8 494.7L771.8 494.7L772.8 493.2L773.8 492.2L774.8 492.4L775.8 492.6L776.8 493.1L777.8 492.9L778.8 493.1L779.8 493.1L780.8 493.1L781.8 493.6L782.8 494.6L783.8 494.7L784.8 493.8L785.8 493.4L786.8 491.7L787.8 488.7L788.8 487.8L789.8 488.4L790.8 487.0L791.8 485.2L792.8 485.8L793.8 487.7L794.8 489.0L795.8 489.3L796.8 489.8L797.8 490.8L798.8 490.7L799.8 489.7L800.8 489.8L801.8 488.7L802.8 487.7L803.8 486.7L804.8 486.3L805.8 485.9L806.8 484.7L807.8 483.6L808.8 482.3L809.8 482.0L810.8 483.8L811.8 484.8L812.8 485.8L813.8 486.5L814.8 485.0L815.8 484.4L816.8 483.9L817.8 482.3L818.8 482.1L819.8 483.2L820.8 483.8L821.8 484.0L822.8 484.1L823.8 483.7L824.8 483.3L825.8 482.3L826.8 481.4L827.8 481.2L828.8 481.3L829.8 481.4L830.8 480.9L831.8 481.1L832.8 483.4L833.8 485.2L834.8 482.7L835.8 480.5L836.8 478.1L837.8 477.1L838.8 477.1L839.8 477.9L840.8 477.7L841.8 477.4L842.8 478.3L843.8 479.3L844.8 478.8L845.8 478.7L846.8 478.3L847.8 479.6L848.8 480.5L849.8 483.7L850.8 486.6L851.8 482.7L852.8 478.0L853.8 474.8L854.8 474.2L855.8 474.2L856.8 473.2L857.8 471.6L858.8 472.9L859.8 474.2L860.8 474.9L861.8 476.2L862.8 476.2L863.8 475.0L864.8 474.4L865.8 474.9L866.8 474.1L867.8 471.7L868.8 469.2L869.8 467.1L870.8 466.7L871.8 466.7L872.8 467.0L873.8 466.7L874.8 467.6L875.8 470.2L876.8 471.5L877.8 469.9L878.8 469.1L879.8 468.7L880.8 468.3L881.8 467.0L882.8 466.1L883.8 465.5L884.8 464.2L885.8 463.3L886.8 463.0L887.8 462.6L888.8 462.6L889.8 463.6L890.8 464.3L891.8 465.8L892.8 466.7L893.8 466.7L894.8 468.1L895.8 470.6L896.8 474.6L897.8 477.9L898.8 478.7L899.8 478.7L900.8 479.7L901.8 482.7L902.8 484.9L903.8 481.3L904.8 480.7L905.8 480.2L905.8 479.5" stroke="#170C06"/>

</g>
</svg>

<div class="a xa" style="left:135.5px;top:597px"><span class="c" style="transform:scaleX(0.763)">2021</span></div>
<div class="a xa" style="left:278px;top:597px"><span class="c">2022</span></div>
<div class="a xa" style="left:430px;top:597px"><span class="c">2023</span></div>
<div class="a xa" style="left:593px;top:597px"><span class="c">2024</span></div>
<div class="a xa" style="left:746px;top:597px"><span class="c">2025</span></div>
<div class="a xa" style="left:830px;top:597px"><span class="c m">27 MAR 26</span></div>

<div class="a vl" style="left:916px;top:248.1px"><span class="c" style="transform:scaleX(0.731)">177,01</span></div>
<div class="a vl" style="left:916px;top:316.5px"><span class="c" style="transform:scaleX(0.855)">135,99</span></div>
<div class="a vl" style="left:916px;top:407px"><span class="c" style="transform:scaleX(0.77)">77,60</span></div>
<div class="a vl" style="left:916px;top:467.6px"><span class="c" style="transform:scaleX(0.874)">34,09</span></div>

<div id="rb"></div>
<div style="position:absolute;left:650px;top:72px;width:2px;height:8px;background:#f6ede6"></div>
<div style="position:absolute;left:650px;top:677px;width:2px;height:13px;background:#f6ede6"></div>
<div class="a" id="exp"><span class="c">Expansión</span></div>
<div class="a" id="src"><span class="c">Fuente: Bloomberg</span></div>
</body></html>
